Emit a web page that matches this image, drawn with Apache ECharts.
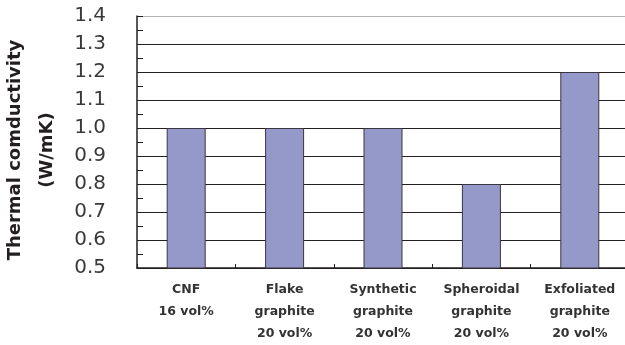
<!DOCTYPE html>
<html>
<head>
<meta charset="utf-8">
<script src="https://cdn.jsdelivr.net/npm/echarts@6/dist/echarts.min.js"></script>
<style>
  html, body { margin: 0; padding: 0; background: #fff; }
  #chart { width: 625px; height: 345px; }
</style>
</head>
<body>
<div id="chart"></div>
<script>
// data
const categories = [
  'CNF\n16 vol%',
  'Flake\ngraphite\n20 vol%',
  'Synthetic\ngraphite\n20 vol%',
  'Spheroidal\ngraphite\n20 vol%',
  'Exfoliated\ngraphite\n20 vol%'
]
const conductivity = [1.0, 1.0, 1.0, 0.8, 1.2]
const yMin = 0.5
const yMax = 1.4
const yStep = 0.1

const chart = echarts.init(document.getElementById('chart'))

// top border line is lighter than the inner grid lines
const gridColors = []
for (let i = 0; i < 10; i++) gridColors.push(i === 9 ? '#b4b4b4' : '#231f20')

const option = {
  backgroundColor: '#fff',
  animation: false,
  grid: { left: 137, top: 16, right: -4, bottom: 77, outerBoundsMode: 'none' },
  xAxis: {
    type: 'category',
    data: categories,
    axisLine: { lineStyle: { color: '#231f20', width: 1.5 } },
    axisTick: { show: true, inside: true, length: 4, interval: 0, lineStyle: { color: '#231f20' } },
    axisLabel: {
      interval: 0,
      margin: 11,
      color: '#333',
      fontFamily: 'DejaVu Sans',
      fontWeight: 'bold',
      fontSize: 12.5,
      lineHeight: 22
    }
  },
  yAxis: {
    type: 'value',
    min: yMin,
    max: yMax,
    interval: yStep,
    name: 'Thermal comductivity\n(W/mK)',
    nameLocation: 'middle',
    nameRotate: 90,
    nameGap: 66,
    nameTextStyle: {
      fontFamily: 'DejaVu Sans',
      fontWeight: 'bold',
      fontSize: 18,
      color: '#231f20',
      lineHeight: 32,
      padding: [0, 16, 0, 0]
    },
    axisLine: { show: true, lineStyle: { color: '#231f20', width: 1.5 } },
    axisTick: { show: true, inside: true, length: 6, lineStyle: { color: '#231f20' } },
    minorTick: { show: true, splitNumber: 2, length: 6, lineStyle: { color: '#231f20' } },
    axisLabel: {
      margin: 31,
      color: '#3a3a3a',
      fontFamily: 'DejaVu Sans',
      fontSize: 20,
      formatter: v => v.toFixed(1)
    },
    splitLine: { show: true, lineStyle: { color: gridColors, width: 1.2 } }
  },
  series: [
    {
      type: 'bar',
      data: conductivity,
      barWidth: 39,
      itemStyle: { color: '#9599c9', borderColor: '#3a3640', borderWidth: 1 }
    }
  ]
}

chart.setOption(option)
</script>
</body>
</html>
